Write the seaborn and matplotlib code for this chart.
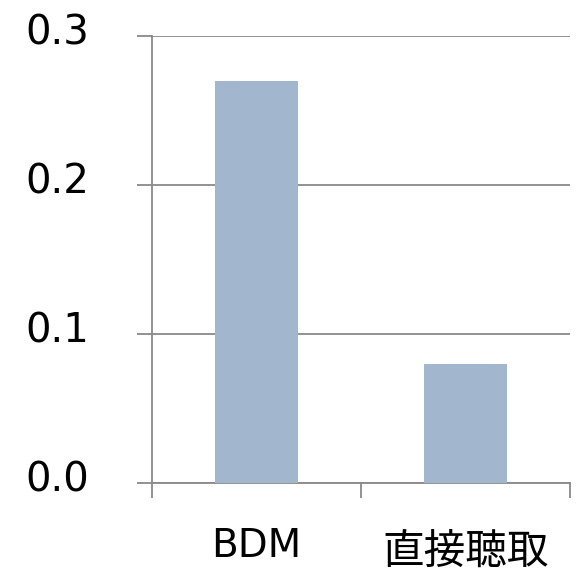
import pandas as pd
import matplotlib.pyplot as plt
import matplotlib.transforms as mtransforms
import seaborn as sns

categories = ["BDM", "直接聴取"]
values = [0.27, 0.08]
y_ticks = [0.0, 0.1, 0.2, 0.3]

sns.set_style("white")
plt.rcParams['font.family'] = ['DejaVu Sans', 'Noto Sans CJK JP']

grey = "#898989"
df = pd.DataFrame({"method": categories, "value": values})

fig = plt.figure(figsize=(5.78, 5.71), dpi=100)
ax = fig.add_axes([152 / 578, 88 / 571, 418 / 578, 447 / 571])

sns.barplot(data=df, x="method", y="value", color="#a2b7cd", saturation=1,
            width=0.4, linewidth=0, ax=ax, zorder=3)

ax.set_xlim(-0.5, len(categories) - 0.5)
ax.set_ylim(0, 0.3)
ax.set_yticks(y_ticks)
ax.set_yticklabels([f"{t:.1f}" for t in y_ticks], fontsize=29)
ax.yaxis.grid(True, color=grey, linewidth=1.3, zorder=0)
ax.set_axisbelow(True)

# category boundaries carry the tick marks, labels sit between them
ax.set_xticks([i - 0.5 for i in range(len(categories) + 1)], minor=True)
ax.set_xticklabels(categories, fontsize=28)
ax.tick_params(axis="x", which="major", length=0, pad=32, labelcolor="black")
ax.tick_params(axis="x", which="minor", length=11, width=1.3, color=grey,
               direction="out", bottom=True)
ax.tick_params(axis="y", length=11, width=1.3, color=grey, direction="out",
               left=True, pad=34, labelcolor="black")

for side in ["top", "right"]:
    ax.spines[side].set_visible(False)
for side in ["left", "bottom"]:
    ax.spines[side].set_color(grey)
    ax.spines[side].set_linewidth(1.3)

ax.set_xlabel("")
ax.set_ylabel("")

shift = mtransforms.ScaledTranslation(0, 7 / 100, fig.dpi_scale_trans)
for lbl in ax.get_yticklabels():
    lbl.set_transform(lbl.get_transform() + shift)

# the Japanese label is set a little larger and lower in the original
cjk = ax.get_xticklabels()[1]
cjk.set_fontsize(30)
cjk.set_transform(cjk.get_transform()
                  + mtransforms.ScaledTranslation(0, -3 / 100, fig.dpi_scale_trans))

plt.savefig("out.png", dpi=100)
plt.close()
